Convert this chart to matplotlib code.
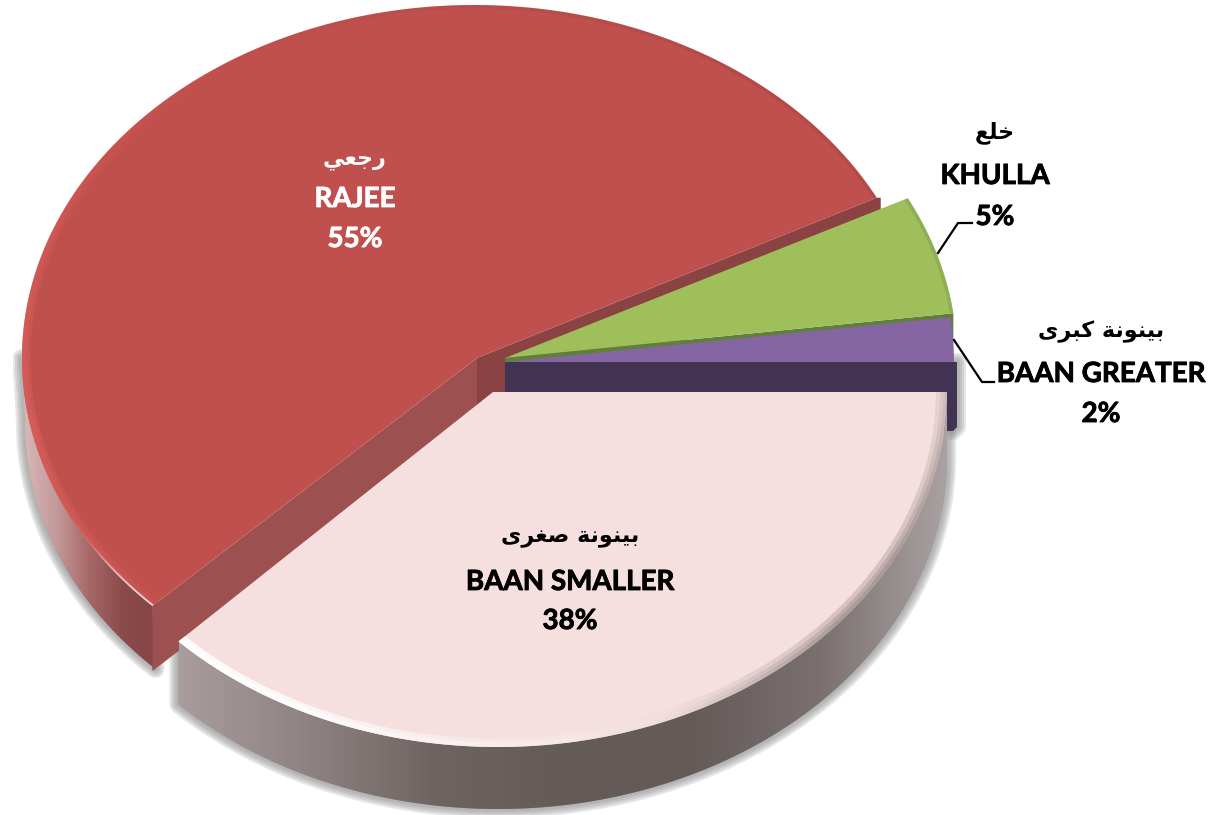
import matplotlib
matplotlib.use('Agg')
import matplotlib.pyplot as plt
import matplotlib.patheffects as pe
import numpy as np
from matplotlib.collections import LineCollection
from matplotlib.colors import LinearSegmentedColormap, to_rgb
from matplotlib.patches import Polygon

# values going counter clockwise from 3 o'clock
names = ['BAAN GREATER', 'KHULLA', 'RAJEE', 'BAAN SMALLER']
values = [2.03, 5.47, 54.9, 37.6]
percent_labels = ['2%', '5%', '55%', '38%']
# arabic in presentation forms, visual order, matplotlib does no shaping
arabic = ['\uFEEF\uFEAE\uFE92\uFEDB \uFE94\uFEE7\uFEEE\uFEE8\uFEF4\uFE91',
          '\uFECA\uFEE0\uFEA7',
          '\uFEF2\uFECC\uFE9F\uFEAD',
          '\uFEEF\uFEAE\uFED0\uFEBB \uFE94\uFEE7\uFEEE\uFEE8\uFEF4\uFE91']

edges = np.concatenate([[0], np.cumsum(values) * 3.6])
DEPTH = 65


def arc(cx, cy, rx, ry, t0, t1, n=200):
    t = np.radians(np.linspace(t0, t1, n))
    return np.column_stack([cx + rx * np.cos(t), cy - ry * np.sin(t)])


def wedge(apex, ell, t0, t1):
    return np.vstack([apex, arc(*ell, t0, t1)])


def shadow(pts):
    for lw in [13, 10, 7, 4]:
        ax.add_patch(Polygon(pts, closed=True, fc='#8c8c8c', ec='#8c8c8c', lw=lw, alpha=0.22, joinstyle='round', zorder=1))


def gradient_wall(pts, stops, zorder):
    # horizontal gradient clipped by the wall outline
    cmap = LinearSegmentedColormap.from_list('w', stops)
    x0, x1 = pts[:, 0].min(), pts[:, 0].max()
    y0, y1 = pts[:, 1].min(), pts[:, 1].max()
    im = ax.imshow(np.linspace(0, 1, 256).reshape(1, -1), cmap=cmap, extent=(x0, x1, y1, y0), aspect='auto', zorder=zorder)
    patch = Polygon(pts, closed=True, transform=ax.transData, fc='none', ec='none')
    ax.add_patch(patch)
    im.set_clip_path(patch)


def rim(ell, t0, t1, color, alpha, lw, clip, zorder):
    # line along the arc with alpha going through the alpha list
    p = arc(*ell, t0, t1, 300)
    segs = np.stack([p[:-1], p[1:]], axis=1)
    a = np.interp(np.linspace(0, 1, 299), np.linspace(0, 1, len(alpha)), alpha)
    cols = [to_rgb(color) + (v,) for v in a]
    lc = LineCollection(segs, colors=cols, linewidths=lw, capstyle='butt', zorder=zorder)
    ax.add_collection(lc)
    lc.set_clip_path(clip)


def face(pts, color, zorder):
    ax.add_patch(Polygon(pts, closed=True, fc=color, ec='none', zorder=zorder))
    clip = Polygon(pts, closed=True, transform=ax.transData, fc='none', ec='none')
    ax.add_patch(clip)
    return clip


fig = plt.figure(figsize=(12.13, 8.15), dpi=100)
ax = fig.add_axes([0, 0, 1, 1])

# slice geometry, apex then ellipse
red_apex, red = np.array([477, 358]), (474, 358, 452, 353)
green_apex, green = np.array([505, 358]), (505, 358, 452, 352)
purple_apex, purple = np.array([505, 362]), (505, 362, 449, 352)
pink_apex, pink = np.array([493, 392]), (498, 392, 449, 355)

t_pur = edges[1]
t_gre = edges[2]
t_red = edges[3]

red_top = wedge(red_apex, red, t_gre, t_red)
pink_top = wedge(pink_apex, pink, t_red, 360)
green_top = wedge(green_apex, green, t_pur, t_gre)
purple_top = wedge(purple_apex, purple, 0, t_pur)

red_outer = np.vstack([arc(*red, 180, t_red),
                       arc(red[0] + 3, red[1] + DEPTH, red[2], red[3] - 3, t_red, 180)])
pink_outer = np.vstack([arc(*pink, t_red, 360),
                        arc(pink[0], pink[1] + DEPTH, pink[2], pink[3] - 3, 360, t_red)])

# end of the dark side of the purple slice
pur_x = purple[0] + purple[2] + 3
purple_side = np.array([[purple[0], purple[1]], [pur_x, purple[1]],
                        [pur_x, purple[1] + 65], [pur_x - 4, purple[1] + 69],
                        [purple[0], purple[1] + 69]])

shadow(red_outer)
shadow(pink_outer)
shadow(purple_side[1:4])

gradient_wall(red_outer, ['#d9b9b9', '#c49a9a', '#a86868', '#8a4b4b', '#874545'], 2)

c = red_top[-1]
ax.add_patch(Polygon([red_apex, c, c + [0, DEPTH], red_apex + [0, DEPTH]], closed=True, fc='#9c5050', ec='none', zorder=3))
e = red_top[1]
ax.add_patch(Polygon([red_apex, e, e + [4, 0], e + [4, DEPTH], red_apex + [0, DEPTH]], closed=True, fc='#8a4242', ec='none', zorder=3))

g = green_top[1]
ax.add_patch(Polygon([green_apex, g, g + [0, 30], green_apex + [0, 30]], closed=True, fc='#5f7f3a', ec='none', zorder=4))
g_clip = face(green_top, '#9fbf5b', 5)
rim(green, t_pur, t_gre, '#7f9c4f', [0.5, 0.5], 5, g_clip, 6)

ax.add_patch(Polygon(purple_side, closed=True, fc='#433352', ec='none', zorder=6))
face(purple_top, '#8566a3', 7)

gradient_wall(pink_outer, ['#a89c9c', '#8f8282', '#6f6462', '#645a58', '#645a58', '#7a7070', '#aaa2a2'], 8)
p_clip = face(pink_top, '#f5e0df', 9)
for lw in [16, 10, 5]:
    rim(pink, t_red, 360, '#7a6a6a', [0, 0, 0, 0, 0, 0.02, 0.15, 0.25, 0.25, 0.18, 0.1], lw, p_clip, 10)
for lw in [12, 7]:
    rim(pink, t_red, 360, '#ffffff', [0.9, 0.8, 0.5, 0.25, 0.1, 0.05, 0, 0, 0, 0], lw, p_clip, 10)

r_clip = face(red_top, '#c0504d', 11)
rim(red, t_gre, 125, '#9a3f3d', [0.3, 0.3, 0.15, 0.0], 5, r_clip, 12)
for lw in [12, 7]:
    rim(red, 120, t_red, '#e0625e', [0, 0.1, 0.2, 0.35, 0.45, 0.3, 0.15], lw, r_clip, 12)
rim(red, 200, t_red, '#ffffff', [0, 0, 0.15, 0.8, 1], 2.5, r_clip, 12)

ax.plot([938, 958, 972], [253, 223, 223], color='k', lw=1.6, zorder=13)
ax.plot([954, 982, 994], [340, 382, 382], color='k', lw=1.6, zorder=13)

# labels, x centre and the three y rows
label_x = [1101, 995, 355, 570]
label_y = [(332, 374, 414), (133, 176, 217), (160, 199, 239), (538, 582, 621)]
label_col = ['k', 'k', 'white', 'k']
for i in range(len(names)):
    ya, yn, yp = label_y[i]
    fat = [pe.withStroke(linewidth=0.6, foreground=label_col[i])]
    ax.text(label_x[i], ya, arabic[i], family='DejaVu Sans', weight='bold', fontsize=16, color=label_col[i], ha='center', va='center', zorder=14)
    ax.text(label_x[i], yn, names[i], family='Lato', weight='bold', fontsize=20, color=label_col[i], ha='center', va='center', zorder=14, path_effects=fat)
    ax.text(label_x[i], yp, percent_labels[i], family='Lato', weight='bold', fontsize=20, color=label_col[i], ha='center', va='center', zorder=14, path_effects=fat)

ax.set_xlim(0, 1213)
ax.set_ylim(815, 0)
ax.axis('off')
fig.savefig('out.png', dpi=100, facecolor='white')
